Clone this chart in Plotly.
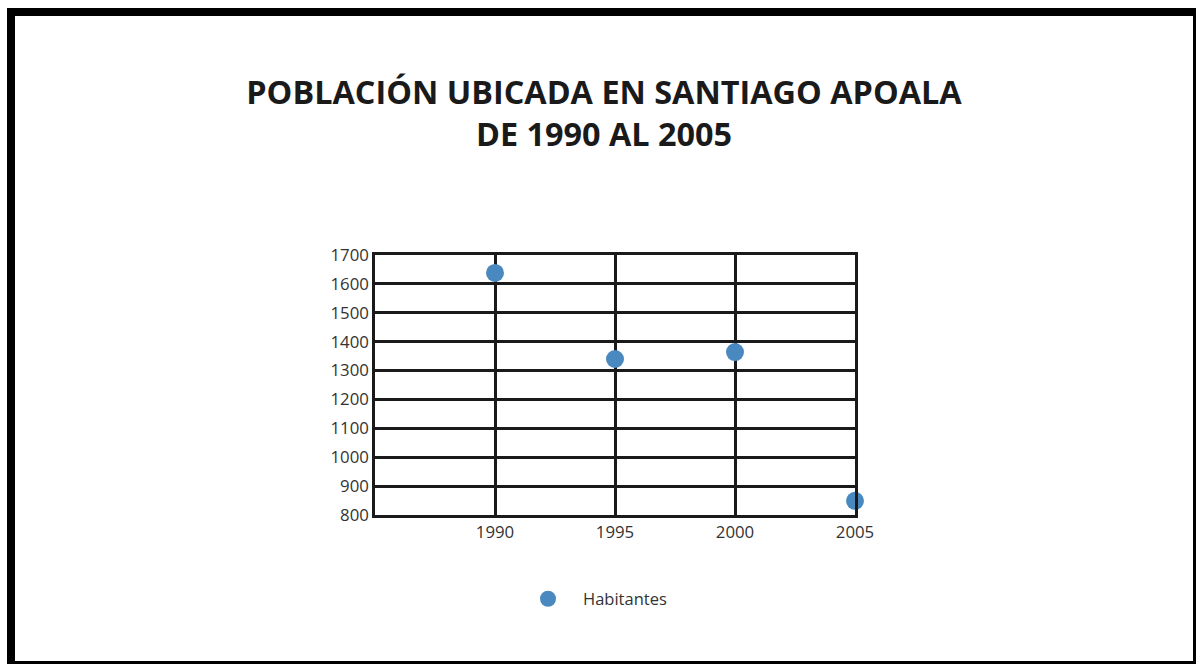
import plotly.graph_objects as go

# data
anios = [1990, 1995, 2000, 2005]
habitantes = [1638, 1340, 1364, 849]
y_ticks = [800, 900, 1000, 1100, 1200, 1300, 1400, 1500, 1600, 1700]

W, H = 1196, 664
L, R, T, B = 375, 341, 255, 149
PW, PH = W - L - R, H - T - B


def px_x(px):
    return (px - L) / PW


def px_y(py):
    return (H - B - py) / PH


fig = go.Figure()

fig.add_trace(go.Scatter(
    x=anios,
    y=habitantes,
    mode="markers",
    name="Habitantes",
    marker=dict(color="#4A89C0", size=18),
    cliponaxis=False,
))

# black frame (thick top/left, thin right/bottom)
frame = [
    (7, 8, 15, H),
    (7, 8, W, 16),
    (W - 3, 8, W, H),
    (7, H - 3, W, H),
]
shapes = []
for x0, y0, x1, y1 in frame:
    shapes.append(dict(
        type="rect", xref="paper", yref="paper",
        x0=px_x(x0), x1=px_x(x1), y0=px_y(y1), y1=px_y(y0),
        fillcolor="black", line=dict(width=0), layer="above",
    ))

fig.update_layout(
    width=W,
    height=H,
    margin=dict(l=L, r=R, t=T, b=B),
    paper_bgcolor="white",
    plot_bgcolor="white",
    font=dict(family="Open Sans", color="#333333", size=16.8),
    title=dict(
        text="POBLACIÓN UBICADA EN SANTIAGO APOALA<br>DE 1990 AL 2005",
        font=dict(family="Open Sans", size=32.4, color="#1a1a1a", weight="bold"),
        x=604 / W, xref="container", xanchor="center",
        y=1 - 104 / H, yref="container", yanchor="top",
    ),
    showlegend=True,
    legend=dict(
        orientation="h",
        x=px_x(513), xanchor="left",
        y=px_y(599), yanchor="middle",
        font=dict(size=16.5, color="#333333"),
        bgcolor="rgba(0,0,0,0)",
        itemwidth=60,
    ),
    shapes=shapes,
)

fig.update_xaxes(
    range=[1985, 2005],
    tickvals=anios,
    ticktext=[str(a) for a in anios],
    showgrid=True, gridcolor="#1a1a1a", gridwidth=2.5,
    showline=True, linecolor="#1a1a1a", linewidth=2.5, mirror=True,
    zeroline=False, ticks="", ticklabelstandoff=0,
)
fig.update_yaxes(
    range=[800, 1700],
    tickvals=y_ticks,
    showgrid=True, gridcolor="#1a1a1a", gridwidth=2.5,
    showline=True, linecolor="#1a1a1a", linewidth=2.5, mirror=True,
    zeroline=False, ticks="", ticklabelstandoff=0,
)

# drop the default body margin so the figure fills the window exactly
fig.write_html(
    "out.html",
    config={"displayModeBar": False},
    post_script="document.body.style.margin='0';",
)
